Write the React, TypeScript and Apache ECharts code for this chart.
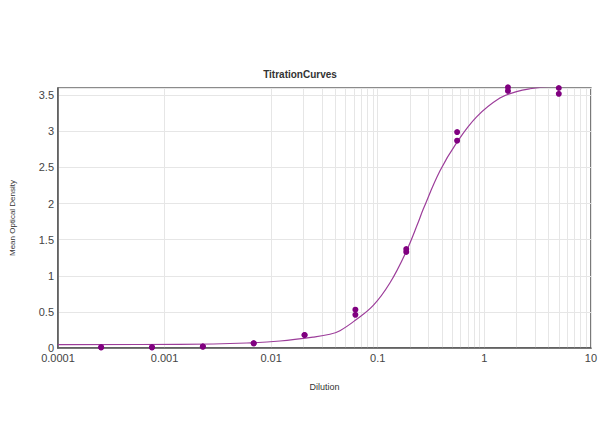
import React, { useEffect, useRef } from "react";
import * as echarts from "echarts";

// Dilution series (3-fold) and replicate optical densities
const dilutions = [0.000254, 0.000762, 0.002286, 0.006859, 0.02058, 0.06173, 0.1852, 0.5556, 1.667, 5.0];
const odRep1 = [0.01, 0.01, 0.02, 0.065, 0.18, 0.53, 1.37, 2.99, 3.61, 3.6];
const odRep2 = [0.01, 0.01, 0.02, 0.065, 0.18, 0.46, 1.33, 2.87, 3.56, 3.52];

// Fitted curve
const curveX = [0.0001, 0.00139, 0.00589, 0.0121, 0.0247, 0.0356, 0.0442, 0.0611, 0.0908, 0.13, 0.183, 0.24, 0.267, 0.383, 0.549, 0.847, 1.4, 2.01, 2.68, 4.0, 10];
const curveY = [0.047, 0.051, 0.069, 0.097, 0.15, 0.19, 0.24, 0.38, 0.59, 0.9, 1.32, 1.74, 1.92, 2.45, 2.84, 3.2, 3.46, 3.55, 3.59, 3.62, 3.64];

const xTickLabels = ["0.0001", "0.001", "0.01", "0.1", "1", "10"];
const decades = [0.0001, 0.001, 0.01, 0.1, 1];
const minorMultipliers = [2, 3, 4, 5, 6, 7, 8, 9];

const title = "TitrationCurves";
const xName = "Dilution";
const yName = "Mean Optical Density";

export default function App() {
  const ref = useRef<HTMLDivElement>(null);
  useEffect(() => {
    if (!ref.current) return;
    const chart = echarts.init(ref.current, undefined, { renderer: "svg" });
    const gridValues: number[] = [];
    decades.forEach((d) => {
      if (d > 0.0001) gridValues.push(d);
      minorMultipliers.forEach((m) => gridValues.push(+(d * m).toPrecision(6)));
    });
    const font = "'Liberation Sans', Arial, sans-serif";
    chart.setOption({
      animation: false,
      backgroundColor: "#ffffff",
      title: {
        text: title,
        left: "center",
        top: 64,
        textStyle: { fontSize: 10, fontWeight: "bold", color: "#333", fontFamily: font },
      },
      grid: {
        left: 58,
        right: 9,
        top: 88,
        bottom: 99,
        show: true,
        borderColor: "#666",
        borderWidth: 1.5,
      },
      xAxis: {
        type: "log",
        logBase: 10,
        min: 0.0001,
        max: 10,
        name: xName,
        nameLocation: "middle",
        nameGap: 34,
        nameTextStyle: { fontSize: 9, color: "#333", fontFamily: font },
        axisLine: { show: true, lineStyle: { color: "#555", width: 1.5 } },
        axisTick: { show: false },
        splitLine: { show: true, lineStyle: { color: "#e6e6e6", width: 1 } },
        axisLabel: {
          fontSize: 11,
          color: "#444",
          fontFamily: font,
          margin: 4,
          formatter: (v: number) => {
            const i = Math.round(Math.log10(v)) + 4;
            return xTickLabels[i] ?? "";
          },
        },
      },
      yAxis: {
        type: "value",
        min: 0,
        max: 3.6,
        interval: 0.5,
        name: yName,
        nameLocation: "middle",
        nameGap: 42,
        nameTextStyle: { fontSize: 8, color: "#333", fontFamily: font },
        axisLine: { show: true, lineStyle: { color: "#555", width: 1.5 } },
        axisTick: { show: false },
        splitLine: { show: true, lineStyle: { color: "#e6e6e6", width: 1 } },
        axisLabel: {
          fontSize: 11,
          color: "#444",
          fontFamily: font,
          margin: 4,
          showMaxLabel: false,
        },
      },
      series: [
        {
          type: "line",
          data: [],
          silent: true,
          z: 0,
          markLine: {
            z: 0,
            silent: true,
            symbol: "none",
            label: { show: false },
            lineStyle: { color: "#e6e6e6", width: 1, type: "solid" },
            data: gridValues.map((v) => ({ xAxis: v })),
          },
        },
        {
          type: "line",
          data: curveX.map((x, i) => [x, curveY[i]]),
          smooth: 0.4,
          showSymbol: false,
          symbol: "none",
          lineStyle: { color: "#9c3d9a", width: 1.2 },
          clip: true,
          z: 3,
        },
        {
          type: "scatter",
          data: dilutions.map((x, i) => [x, odRep1[i]]),
          symbolSize: 6,
          itemStyle: { color: "#800080", opacity: 1 },
          clip: false,
          z: 4,
        },
        {
          type: "scatter",
          data: dilutions.map((x, i) => [x, odRep2[i]]),
          symbolSize: 6,
          itemStyle: { color: "#800080", opacity: 1 },
          clip: false,
          z: 4,
        },
      ],
    });
    return () => chart.dispose();
  }, []);
  return (
    <div
      ref={ref}
      style={{ position: "fixed", left: 0, top: 0, width: 600, height: 447 }}
    />
  );
}
